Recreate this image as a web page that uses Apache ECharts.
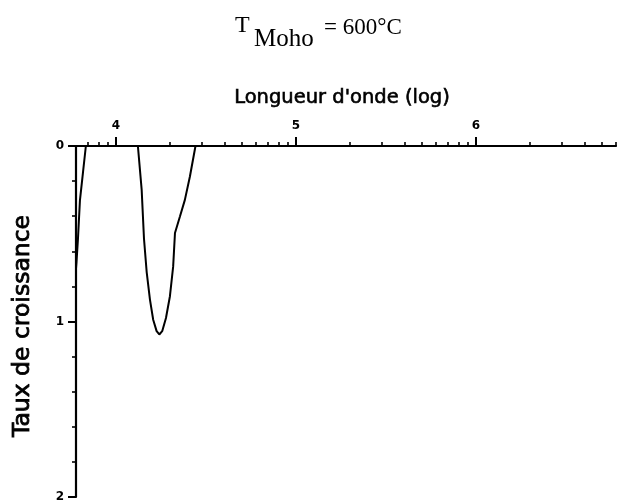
<!DOCTYPE html>
<html>
<head>
<meta charset="utf-8">
<script src="https://cdn.jsdelivr.net/npm/echarts@6/dist/echarts.min.js"></script>
<style>
  html, body { margin: 0; padding: 0; background: #fff; }
  #chart { width: 620px; height: 504px; }
</style>
</head>
<body>
<div id="chart"></div>
<script>
// Growth rate versus log10 of wavelength
const logWavelength = [
  3.778, 3.781, 3.789, 3.800, 3.817, 3.833,
  4.122, 4.143, 4.156, 4.171, 4.189, 4.207, 4.226, 4.241, 4.257, 4.278,
  4.300, 4.318, 4.328, 4.356, 4.383, 4.411, 4.442,
  6.778
];
const growthRate = [
  0.70, 0.66, 0.53, 0.31, 0.15, 0.00,
  0.00, 0.25, 0.53, 0.72, 0.875, 0.99, 1.055, 1.074, 1.055, 0.98,
  0.856, 0.686, 0.496, 0.40, 0.307, 0.174, 0.00,
  0.00
];

// Axis ticks
const xMajorTicks = [4, 5, 6];
const xMinorMultiples = [2, 3, 4, 5, 6, 7, 8, 9];
const yMajorTicks = [0, 1, 2];

const xMin = Math.log10(6000);
const xMax = Math.log10(6e6);

const xMinorTicks = [];
[3, 4, 5, 6].forEach(function (decade) {
  xMinorMultiples.forEach(function (m) {
    const v = decade + Math.log10(m);
    if (v > xMin + 1e-6 && v < xMax + 1e-6) xMinorTicks.push(v);
  });
});

const points = logWavelength.map(function (x, i) { return [x, growthRate[i]]; });

const tickFont = { fontFamily: 'DejaVu Sans', fontWeight: 'bold', fontSize: 12, color: '#000' };
const serif = '"Liberation Serif"';

const chart = echarts.init(document.getElementById('chart'), null, { renderer: 'canvas' });
chart.setOption({
  animation: false,
  backgroundColor: '#fff',
  grid: { left: 76, right: 4, top: 146, bottom: 7, containLabel: false },
  graphic: [
    { type: 'text', style: { text: 'T', x: 235, y: 26, font: '24px ' + serif, fill: '#000', verticalAlign: 'middle' } },
    { type: 'text', style: { text: 'Moho', x: 254, y: 39, font: '25px ' + serif, fill: '#000', verticalAlign: 'middle' } },
    { type: 'text', style: { text: '= 600°C', x: 324, y: 28, font: '23px ' + serif, fill: '#000', verticalAlign: 'middle' } },
    { type: 'text', style: { text: "Longueur d'onde (log)", x: 342, y: 98, font: '19.5px "DejaVu Sans"', fill: '#000',
      stroke: '#000', lineWidth: 0.6, align: 'center', verticalAlign: 'middle' } },
    { type: 'text', rotation: Math.PI / 2, x: 23, y: 326,
      style: { text: 'Taux de croissance', x: 0, y: 0, font: '23.5px "DejaVu Sans"', fill: '#000',
        stroke: '#000', lineWidth: 0.8, align: 'center', verticalAlign: 'middle' } }
  ],
  xAxis: [
    {
      type: 'value', position: 'top', min: xMin, max: xMax,
      axisLine: { show: true, lineStyle: { color: '#000', width: 2.2 } },
      axisTick: { show: true, inside: false, length: 9, customValues: xMajorTicks, lineStyle: { color: '#000', width: 2 } },
      axisLabel: Object.assign({ show: true, margin: 14, customValues: xMajorTicks, formatter: function (v) { return String(Math.round(v)); } }, tickFont),
      splitLine: { show: false }
    },
    {
      type: 'value', position: 'top', min: xMin, max: xMax,
      axisLine: { show: false },
      axisTick: { show: true, inside: false, length: 4, customValues: xMinorTicks, lineStyle: { color: '#000', width: 1.6 } },
      axisLabel: { show: false },
      splitLine: { show: false }
    }
  ],
  yAxis: {
    type: 'value', inverse: true, min: 0, max: 2, interval: 1,
    axisLine: { show: true, lineStyle: { color: '#000', width: 2.2 } },
    axisTick: { show: true, inside: false, length: 8, lineStyle: { color: '#000', width: 2 } },
    minorTick: { show: true, splitNumber: 5, length: 4, lineStyle: { color: '#000', width: 1.6 } },
    axisLabel: Object.assign({ show: true, margin: 12, customValues: yMajorTicks }, tickFont),
    splitLine: { show: false },
    minorSplitLine: { show: false }
  },
  series: [{
    type: 'line', xAxisIndex: 0, data: points, symbol: 'none', smooth: false,
    lineStyle: { color: '#000', width: 2 }, clip: true
  }]
});
</script>
</body>
</html>
